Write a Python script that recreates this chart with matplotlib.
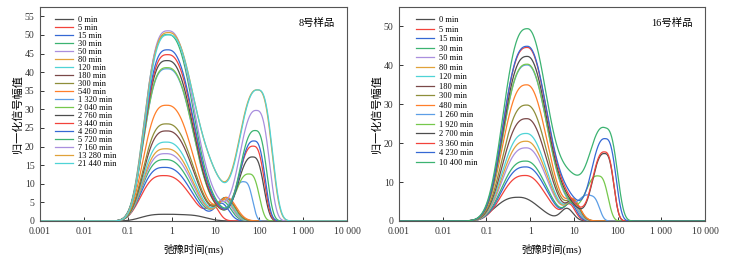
import numpy as np
import matplotlib
matplotlib.use("Agg")
import matplotlib.pyplot as plt
from matplotlib.ticker import FixedLocator, NullLocator

plt.rcParams["font.family"] = ["Liberation Serif", "Noto Sans CJK SC", "DejaVu Sans"]

COLORS = ["#4d4d4d", "#f2433b", "#3568d4", "#3cb371", "#a98fde", "#e0a23a",
          "#4fd3d6", "#7a4848", "#8e8e3a", "#ff7f2a", "#5c9ee6", "#76c84c"]

# 8号样品：每条曲线读出的峰（主峰 / 中间肩峰 / 右峰：幅值、位置 ms、宽度 dec）
L_LABELS = ["0 min", "5 min", "15 min", "30 min", "50 min", "80 min", "120 min",
            "180 min", "300 min", "540 min", "1 320 min", "2 040 min", "2 760 min",
            "3 440 min", "4 260 min", "5 720 min", "7 160 min", "13 280 min", "21 440 min"]
L_P1_H = [1.8, 12.2, 14.4, 16.5, 18.1, 19.4, 21.2, 24.2, 26.1, 31.1,
          40.9, 41.2, 43.1, 44.7, 46.0, 50.1, 51.1, 50.6, 50.0]
L_P1_T = [0.7, 0.68, 0.7, 0.72, 0.74, 0.75, 0.76, 0.78, 0.78, 0.78,
          0.8, 0.8, 0.8, 0.82, 0.82, 0.82, 0.84, 0.85, 0.86]
L_SH_H = [0.7, 3.5, 4.5, 5.0, 5.5, 5.5, 6.0, 6.0, 6.0, 6.0,
          2.0, 1.5, 1.5, 1.5, 1.8, 2.0, 3.0, 8.5, 8.5]
L_SH_T = [4, 9, 14, 15, 16, 17, 17, 18, 18, 19,
          12, 12, 12, 12, 11, 11, 10, 9, 9]
L_SH_W = [0.25, 0.13, 0.16, 0.18, 0.18, 0.18, 0.18, 0.19, 0.19, 0.2,
          0.25, 0.25, 0.25, 0.25, 0.25, 0.25, 0.27, 0.3, 0.3]
L_P2_H = [0, 0, 0, 0, 0, 0, 0, 0, 0, 0,
          10.4, 12.6, 17.2, 20.1, 21.5, 24.3, 29.7, 35.2, 35.2]
L_P2_T = [1, 1, 1, 1, 1, 1, 1, 1, 1, 1,
          45, 58, 70, 72, 75, 80, 85, 90, 92]
L_P2_W = [0.1, 0.1, 0.1, 0.1, 0.1, 0.1, 0.1, 0.1, 0.1, 0.1,
          0.18, 0.22, 0.24, 0.24, 0.24, 0.25, 0.28, 0.31, 0.31]

# 16号样品
R_LABELS = ["0 min", "5 min", "15 min", "30 min", "50 min", "80 min", "120 min",
            "180 min", "300 min", "480 min", "1 260 min", "1 920 min", "2 700 min",
            "3 360 min", "4 230 min", "10 400 min"]
R_P1_H = [6.1, 11.7, 13.9, 15.4, 18.8, 20.5, 22.5, 26.3, 29.8, 35.0,
          40.1, 40.3, 42.3, 44.6, 44.9, 49.4]
R_P1_T = [0.55, 0.78, 0.8, 0.8, 0.82, 0.82, 0.82, 0.84, 0.84, 0.84,
          0.86, 0.86, 0.86, 0.86, 0.86, 0.86]
R_SH_H = [3.1, 3.8, 4.0, 4.2, 4.3, 4.4, 4.5, 4.5, 4.5, 4.5,
          2.0, 2.5, 3.0, 3.5, 4.5, 9.5]
R_SH_T = [7, 8, 8.5, 9, 9, 9.5, 9.5, 10, 10, 10,
          8, 8, 8, 8, 8, 9]
R_SH_W = [0.14, 0.13, 0.13, 0.14, 0.14, 0.14, 0.14, 0.14, 0.15, 0.15,
          0.25, 0.25, 0.27, 0.28, 0.28, 0.3]
R_P2_H = [0, 0, 0, 0, 0, 0, 0, 0, 0, 0,
          6.2, 11.5, 17.3, 17.7, 21.1, 23.6]
R_P2_T = [1, 1, 1, 1, 1, 1, 1, 1, 1, 1,
          24, 36, 50, 50, 52, 52]
R_P2_W = [0.1, 0.1, 0.1, 0.1, 0.1, 0.1, 0.1, 0.1, 0.1, 0.1,
          0.19, 0.21, 0.2, 0.2, 0.23, 0.26]

XT = [0.001, 0.01, 0.1, 1, 10, 100, 1000, 10000]
XT_LAB = ["0.001", "0.01", "0.1", "1", "10", "100", "1 000", "10 000"]


def bump(lx, h, t, left, right):
    # 对数坐标下左右不对称的峰形，left/right = (宽度, 指数)
    c = np.log10(t)
    d = lx - c
    w = np.where(d < 0, left[0], right[0])
    p = np.where(d < 0, left[1], right[1])
    return h * np.exp(-0.5 * np.abs(d / w) ** p)


def draw_panel(ax, labels, p1h, p1t, shh, sht, shw, p2h, p2t, p2w, shape1,
               title, yticks, ymax, lab_sp, leg_x):
    t = np.logspace(-3, 4, 1600)
    lx = np.log10(t)
    for i, lab in enumerate(labels):
        y = (bump(lx, p1h[i], p1t[i], shape1[0], shape1[1])
             + bump(lx, shh[i], sht[i], (shw[i], 2), (shw[i], 2))
             + bump(lx, p2h[i], p2t[i], (1.3 * p2w[i], 2.5), (p2w[i], 3)))
        ax.plot(t, y, color=COLORS[i % 12], lw=0.9, label=lab)
    ax.set_xscale("log")
    ax.set_xlim(0.001, 10000)
    ax.set_ylim(0, ymax)
    ax.xaxis.set_major_locator(FixedLocator(XT))
    ax.set_xticklabels(XT_LAB)
    ax.xaxis.set_minor_locator(NullLocator())
    ax.set_yticks(yticks)
    ax.tick_params(direction="in", length=3, width=0.7, labelsize=7,
                   colors="#333333", pad=4)
    for s in ax.spines.values():
        s.set_color("#555555")
        s.set_linewidth(0.8)
    ax.set_xlabel("弛豫时间(ms)", fontsize=7.5, labelpad=6)
    ax.set_ylabel("归一化信号幅值", fontsize=8, labelpad=1)
    ax.text(0.96, 0.95, title, transform=ax.transAxes, ha="right", va="top",
            fontsize=7.5)
    ax.legend(loc="upper left", bbox_to_anchor=(leg_x, 0.985), frameon=False,
              fontsize=6, handlelength=2.2, handletextpad=0.6,
              labelspacing=lab_sp, borderpad=0.2)


fig = plt.figure(figsize=(7.31, 2.6), dpi=100)
axl = fig.add_axes([40 / 731, 39 / 260, 307 / 731, 214 / 260])
axr = fig.add_axes([399 / 731, 39 / 260, 306 / 731, 214 / 260])

draw_panel(axl, L_LABELS, L_P1_H, L_P1_T, L_SH_H, L_SH_T, L_SH_W, L_P2_H, L_P2_T, L_P2_W,
           ((0.5, 3.0), (0.57, 2.5)), "8号样品",
           np.arange(0, 56, 5), 57.5, 0.0, 0.03)
draw_panel(axr, R_LABELS, R_P1_H, R_P1_T, R_SH_H, R_SH_T, R_SH_W, R_P2_H, R_P2_T, R_P2_W,
           ((0.52, 2.7), (0.45, 2.2)), "16号样品",
           np.arange(0, 51, 10), 55, 0.18, 0.036)

fig.savefig("out.png", dpi=100, facecolor="white")
